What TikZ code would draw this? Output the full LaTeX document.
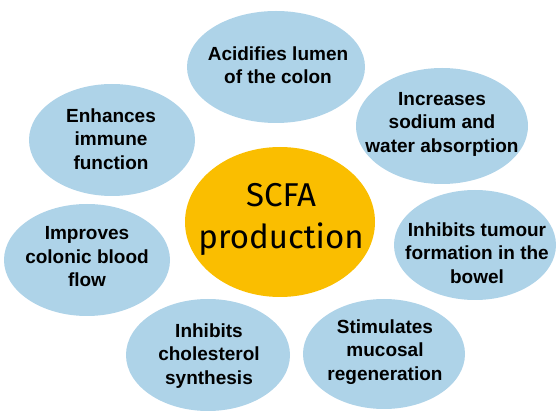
\documentclass[tikz,border=0pt]{standalone}
\usepackage{fontspec}
\setmainfont{Liberation Sans}
\newfontfamily\hubfont{Fira Sans}
\definecolor{bubbleblue}{RGB}{174,211,232}
\definecolor{hubyellow}{RGB}{250,190,0}

\begin{document}
\begin{tikzpicture}[x=1pt,y=-1pt,
    bubble/.style={fill=bubbleblue},
    bubbletext/.style={font=\bfseries\fontsize{19}{23.5}\selectfont,align=center,inner sep=0pt}]
  \useasboundingbox (0,0) rectangle (557,411);

  % effects around the hub
  \foreach \cx/\cy/\rx/\ry/\tx/\ty/\name/\txt in {
      276/67/89/56/278/65/acid/{Acidifies lumen\\of the colon},
      442/126/86/58/442/124/sodium/{Increases\\sodium and\\water absorption},
      475/245/81/55/477/253/tumour/{Inhibits tumour\\formation in the\\bowel},
      384/354/81/55/385/352/mucosa/{Stimulates\\mucosal\\regeneration},
      208/355/82/56/209/356/chol/{Inhibits\\cholesterol\\synthesis},
      87/260/83/56/87/257/blood/{Improves\\colonic blood\\flow},
      112/140/83/56/111/139/immune/{Enhances\\immune\\function}}
  {
    \fill[bubble] (\cx,\cy) ellipse [x radius=\rx*1pt, y radius=\ry*1pt];
    \node[bubbletext] (\name) at (\tx,\ty) {\txt};
  }

  % hub
  \fill[hubyellow] (280,222) ellipse [x radius=95pt, y radius=75pt];
  \node[font=\hubfont\fontsize{33}{42}\selectfont,align=center,inner sep=0pt] (hub) at (281,219) {SCFA\\production};
\end{tikzpicture}
\end{document}
